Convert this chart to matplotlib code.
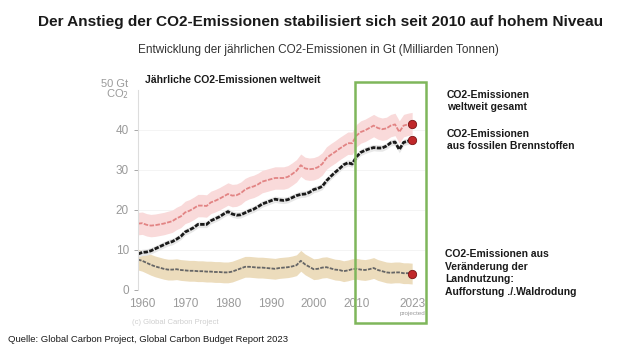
import matplotlib.pyplot as plt
import numpy as np
from matplotlib.patches import Rectangle

plt.rcParams["font.family"] = ["Liberation Sans", "DejaVu Sans"]

# Jahre 1959 - 2023
years = np.arange(1959, 2024)

# CO2 aus fossilen Brennstoffen (Gt CO2)
fossil = [
    9.0, 9.4, 9.5, 9.8, 10.3, 10.8, 11.3, 11.8, 12.1, 12.7,
    13.4, 14.5, 15.0, 15.6, 16.4, 16.4, 16.4, 17.3, 17.8, 18.3,
    19.0, 19.6, 19.0, 18.7, 18.8, 19.3, 19.8, 20.2, 20.8, 21.5,
    21.9, 22.3, 22.7, 22.5, 22.4, 22.6, 23.1, 23.6, 23.9, 24.0,
    24.4, 25.1, 25.4, 25.9, 27.3, 28.4, 29.4, 30.3, 31.3, 31.8,
    31.5, 33.3, 34.4, 34.9, 35.3, 35.6, 35.5, 35.5, 36.0, 36.8,
    37.0, 35.1, 36.9, 37.2, 37.5,
]

# CO2 aus Landnutzungsänderung (Gt CO2)
land_use = [
    7.6, 7.3, 6.8, 6.3, 5.9, 5.6, 5.3, 5.1, 5.1, 5.2,
    5.0, 4.9, 4.8, 4.8, 4.7, 4.7, 4.6, 4.6, 4.5, 4.5,
    4.4, 4.4, 4.6, 5.0, 5.4, 5.8, 5.8, 5.7, 5.6, 5.6,
    5.5, 5.4, 5.3, 5.5, 5.6, 5.7, 5.9, 6.2, 7.3, 6.4,
    5.8, 5.2, 5.3, 5.6, 5.7, 5.4, 5.1, 5.0, 4.7, 4.9,
    5.2, 5.3, 5.1, 5.0, 5.2, 5.5, 5.0, 4.7, 4.4, 4.3,
    4.4, 4.4, 4.2, 4.2, 4.1,
]

# CO2-Emissionen weltweit gesamt (Gt CO2)
total = [
    16.6, 16.7, 16.3, 16.1, 16.2, 16.4, 16.6, 16.9, 17.2, 17.9,
    18.4, 19.4, 19.8, 20.4, 21.1, 21.1, 21.0, 21.9, 22.3, 22.8,
    23.4, 24.0, 23.6, 23.7, 24.2, 25.1, 25.6, 25.9, 26.4, 27.1,
    27.4, 27.7, 28.0, 28.0, 28.0, 28.3, 29.0, 29.8, 31.2, 30.4,
    30.2, 30.3, 30.7, 31.5, 33.0, 33.8, 34.5, 35.3, 36.0, 36.7,
    36.7, 38.6, 39.5, 39.9, 40.5, 41.1, 40.5, 40.2, 40.4, 41.1,
    41.4, 39.5, 41.1, 41.4, 41.6,
]

# Unsicherheiten (+/- Gt CO2)
fossil_unc = 0.8
land_unc = 2.6
total_unc = 2.8

xticks = [1960, 1970, 1980, 1990, 2000, 2010, 2023]
yticks = [0, 10, 20, 30, 40]

fossil = np.array(fossil)
land_use = np.array(land_use)
total = np.array(total)

fig = plt.figure(figsize=(6.2, 3.57), dpi=100)
ax = fig.add_axes([138 / 620, 1 - 290 / 357, 287 / 620, 200 / 357])

# Bänder
ax.fill_between(years, total - total_unc, total + total_unc, color="#f9dada", lw=0)
ax.fill_between(years, land_use - land_unc, land_use + land_unc, color="#ecdcbc", lw=0)
ax.fill_between(years, fossil - fossil_unc, fossil + fossil_unc, color="#e8e8e8", lw=0)

# Linien
ax.plot(years, total, color="#e28484", lw=1.3, ls=(0, (2.5, 0.8)))
ax.plot(years, fossil, color="#1a1a1a", lw=2.0, ls=(0, (1.6, 0.5)))
ax.plot(years, land_use, color="#666666", lw=1.3, ls=(0, (2.0, 0.7)))

# Endpunkte 2023
for series in (total, fossil, land_use):
    ax.plot(years[-1], series[-1], "o", color="#c0282a", ms=6,
            mec="#7a1515", mew=0.6, zorder=5)

ax.set_xlim(1959, 2026)
ax.set_ylim(0, 50)
ax.set_xticks(xticks)
ax.set_xticklabels([str(x) for x in xticks])
ax.set_yticks(yticks)
ax.tick_params(axis="both", colors="#9a9a9a", labelsize=8.5, length=3, width=0.6)
ax.tick_params(axis="x", length=0, pad=6)
for y in [10, 20, 30, 40]:
    ax.axhline(y, color="#f2f2f2", lw=0.6, zorder=0)
for side in ["top", "right", "bottom"]:
    ax.spines[side].set_visible(False)
ax.spines["left"].set_color("#dddddd")
ax.spines["left"].set_linewidth(0.8)

ax.text(1956.8, 50, "50 Gt\nCO$_2$", ha="right", va="center",
        fontsize=8, color="#9a9a9a", linespacing=0.9)
ax.text(2023, -5.3, "projected", ha="center", va="top", fontsize=4.5, color="#9a9a9a")
ax.text(1957.5, -7.2, "(c) Global Carbon Project", ha="left", va="top",
        fontsize=5.5, color="#cfcfcf")

# Grüner Rahmen 2010 - 2023
fig.patches.append(Rectangle((355 / 620, 1 - 323 / 357), 71 / 620, 241 / 357,
                             transform=fig.transFigure, fill=False,
                             edgecolor="#7fb65b", lw=1.8))

# Texte
fig.text(321 / 620, 1 - 22 / 357,
         "Der Anstieg der CO2-Emissionen stabilisiert sich seit 2010 auf hohem Niveau",
         ha="center", va="center", fontsize=11.1, fontweight="bold", color="#1a1a1a")
fig.text(318 / 620, 1 - 50 / 357,
         "Entwicklung der jährlichen CO2-Emissionen in Gt (Milliarden Tonnen)",
         ha="center", va="center", fontsize=8.5, color="#333333")
fig.text(145 / 620, 1 - 80 / 357, "Jährliche CO2-Emissionen weltweit",
         ha="left", va="center", fontsize=7.5, fontweight="bold", color="#1a1a1a")
fig.text(447 / 620, 1 - 101 / 357, "CO2-Emissionen\nweltweit gesamt",
         ha="left", va="center", fontsize=7.5, fontweight="bold", color="#1a1a1a")
fig.text(447 / 620, 1 - 140 / 357, "CO2-Emissionen\naus fossilen Brennstoffen",
         ha="left", va="center", fontsize=7.5, fontweight="bold", color="#1a1a1a")
fig.text(445 / 620, 1 - 273 / 357,
         "CO2-Emissionen aus\nVeränderung der\nLandnutzung:\nAufforstung ./.Waldrodung",
         ha="left", va="center", fontsize=7.5, fontweight="bold", color="#1a1a1a",
         linespacing=1.3)
fig.text(8 / 620, 1 - 339 / 357,
         "Quelle: Global Carbon Project, Global Carbon Budget Report 2023",
         ha="left", va="center", fontsize=6.8, color="#1a1a1a")

fig.savefig("out.png", dpi=100)
